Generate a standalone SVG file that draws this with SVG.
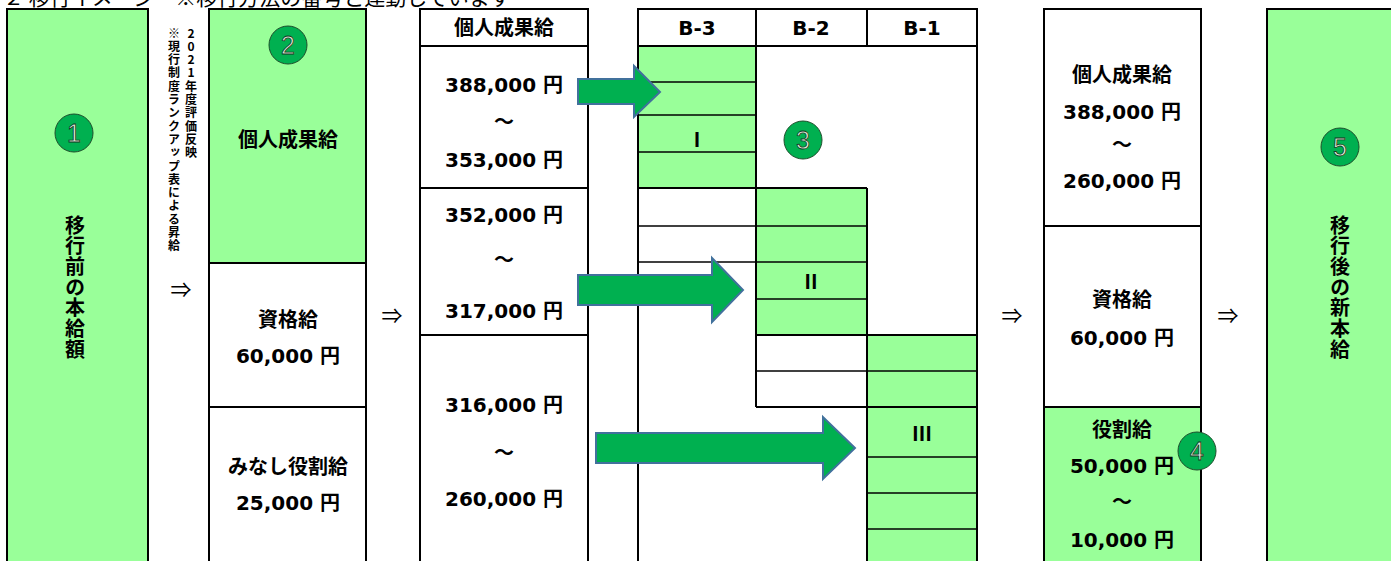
<svg xmlns="http://www.w3.org/2000/svg" width="1391" height="561" viewBox="0 0 1391 561">
<defs>
<style>
.g{fill:#99FF99}
.w{fill:#FFFFFF}
.frame{fill:none;stroke:#000;stroke-width:2}
.ln{stroke:#000;stroke-width:2;fill:none}
.tn{stroke:#000;stroke-width:1.5;fill:none}
.t{font-family:"DejaVu Sans","Noto Sans CJK JP",sans-serif;font-weight:bold;font-size:20px;text-anchor:middle;fill:#000}
.rn{font-family:"Liberation Serif","Noto Sans CJK JP",serif;font-weight:bold;font-size:20px;text-anchor:middle;fill:#000}
.vt{font-family:"Noto Sans CJK JP",sans-serif;font-weight:bold;font-size:20px;fill:#000;writing-mode:vertical-rl;text-orientation:upright;letter-spacing:0.7px}
.vs{font-family:"Noto Sans CJK JP",sans-serif;font-weight:bold;font-size:12px;fill:#000;writing-mode:vertical-rl;text-orientation:upright;letter-spacing:1.3px}
.nc{fill:#00B050;stroke:#1E4D2B;stroke-width:1}
.nt{font-family:"Liberation Sans",sans-serif;font-size:25px;fill:#E2F0D9;stroke:#13361F;stroke-width:0.8;text-anchor:middle}
.arr{fill:#00B050;stroke:#41719C;stroke-width:2}
.dbl{font-family:"Noto Sans CJK JP",sans-serif;font-size:21px;text-anchor:middle;fill:#000}
.title{font-family:"Noto Sans CJK JP",sans-serif;font-size:21px;fill:#000}
</style>
</defs>
<rect width="1391" height="561" fill="#FFFFFF"/>
<text class="title" x="3" y="5">２ 移行イメージ　※移行方法の番号と連動しています</text>

<g id="node-before">
<rect x="7" y="9" width="141" height="562" class="g"/>
<rect x="7" y="9" width="141" height="562" class="frame"/>
<circle cx="74" cy="133" r="19" class="nc"/>
<text class="nt" x="74" y="142">1</text>
<text class="vt" x="75" y="215">移行前の本給額</text>
</g>

<g id="node-note">
<text class="vs" x="191" y="27">2021年度評価反映</text>
<text class="vs" x="174" y="27">※現行制度ランクアップ表による昇給</text>
</g>

<g id="node-current">
<rect x="209" y="9" width="157" height="562" class="w"/>
<rect x="209" y="9" width="157" height="254" class="g"/>
<line x1="209" y1="263" x2="366" y2="263" class="ln"/>
<line x1="209" y1="407" x2="366" y2="407" class="ln"/>
<rect x="209" y="9" width="157" height="562" class="frame"/>
<circle cx="288" cy="45" r="19" class="nc"/>
<text class="nt" x="288" y="54">2</text>
<text class="t" x="288" y="147">個人成果給</text>
<text class="t" x="288" y="327">資格給</text>
<text class="t" x="288" y="363">60,000 円</text>
<text class="t" x="288" y="474">みなし役割給</text>
<text class="t" x="288" y="510">25,000 円</text>
</g>

<g id="node-perf">
<rect x="420" y="9" width="168" height="562" class="w"/>
<line x1="420" y1="46" x2="588" y2="46" class="ln"/>
<line x1="420" y1="188" x2="588" y2="188" class="ln"/>
<line x1="420" y1="335" x2="588" y2="335" class="ln"/>
<rect x="420" y="9" width="168" height="562" class="frame"/>
<text class="t" x="504" y="35">個人成果給</text>
<text class="t" x="504" y="92">388,000 円</text>
<text class="t" x="504" y="129">～</text>
<text class="t" x="504" y="167">353,000 円</text>
<text class="t" x="504" y="222">352,000 円</text>
<text class="t" x="504" y="267">～</text>
<text class="t" x="504" y="318">317,000 円</text>
<text class="t" x="504" y="412">316,000 円</text>
<text class="t" x="504" y="460">～</text>
<text class="t" x="504" y="506">260,000 円</text>
</g>

<g id="node-grid">
<rect x="638" y="9" width="339" height="562" class="w"/>
<rect x="638" y="46" width="118" height="142" class="g"/>
<rect x="756" y="188" width="111" height="147" class="g"/>
<rect x="867" y="335" width="110" height="236" class="g"/>
<line x1="638" y1="82" x2="756" y2="82" class="tn"/>
<line x1="638" y1="115" x2="756" y2="115" class="tn"/>
<line x1="638" y1="152" x2="756" y2="152" class="tn"/>
<line x1="638" y1="226" x2="867" y2="226" class="tn"/>
<line x1="638" y1="262" x2="867" y2="262" class="tn"/>
<line x1="756" y1="299" x2="867" y2="299" class="tn"/>
<line x1="756" y1="371" x2="977" y2="371" class="tn"/>
<line x1="867" y1="457" x2="977" y2="457" class="tn"/>
<line x1="867" y1="493" x2="977" y2="493" class="tn"/>
<line x1="867" y1="529" x2="977" y2="529" class="tn"/>
<line x1="638" y1="46" x2="977" y2="46" class="ln"/>
<line x1="756" y1="9" x2="756" y2="407" class="ln"/>
<line x1="867" y1="9" x2="867" y2="46" class="ln"/>
<line x1="638" y1="188" x2="867" y2="188" class="ln"/>
<line x1="867" y1="188" x2="867" y2="561" class="ln"/>
<line x1="756" y1="335" x2="977" y2="335" class="ln"/>
<line x1="756" y1="407" x2="977" y2="407" class="ln"/>
<polyline points="638,571 638,9 977,9 977,571" class="ln"/>
<text class="t" x="697" y="35">B-3</text>
<text class="t" x="811" y="35">B-2</text>
<text class="t" x="922" y="35">B-1</text>
<text class="rn" x="697" y="147">Ⅰ</text>
<text class="rn" x="811" y="289">Ⅱ</text>
<text class="rn" x="922" y="441">Ⅲ</text>
<circle cx="803" cy="140" r="19" class="nc"/>
<text class="nt" x="803" y="149">3</text>
</g>

<g id="node-after">
<rect x="1044" y="9" width="157" height="562" class="w"/>
<rect x="1044" y="407" width="157" height="164" class="g"/>
<line x1="1044" y1="226" x2="1201" y2="226" class="ln"/>
<line x1="1044" y1="407" x2="1201" y2="407" class="ln"/>
<rect x="1044" y="9" width="157" height="562" class="frame"/>
<text class="t" x="1122" y="82">個人成果給</text>
<text class="t" x="1122" y="119">388,000 円</text>
<text class="t" x="1122" y="152">～</text>
<text class="t" x="1122" y="188">260,000 円</text>
<text class="t" x="1122" y="307">資格給</text>
<text class="t" x="1122" y="345">60,000 円</text>
<text class="t" x="1122" y="437">役割給</text>
<text class="t" x="1122" y="473">50,000 円</text>
<text class="t" x="1122" y="509">～</text>
<text class="t" x="1122" y="547">10,000 円</text>
<circle cx="1197" cy="451" r="19" class="nc"/>
<text class="nt" x="1197" y="460">4</text>
</g>

<g id="node-new">
<rect x="1267" y="9" width="140" height="562" class="g"/>
<rect x="1267" y="9" width="140" height="562" class="frame"/>
<circle cx="1340" cy="147" r="19" class="nc"/>
<text class="nt" x="1340" y="156">5</text>
<text class="vt" x="1340" y="215">移行後の新本給</text>
</g>

<g id="connectors">
<text class="dbl" x="181" y="297">⇒</text>
<text class="dbl" x="392" y="323">⇒</text>
<text class="dbl" x="1012" y="323">⇒</text>
<text class="dbl" x="1228" y="323">⇒</text>
<polygon class="arr" points="578,79 634,79 634,66 660,92 634,117 634,104 578,104"/>
<polygon class="arr" points="578,275 712,275 712,258 743,290 712,322 712,305 578,305"/>
<polygon class="arr" points="596,433 823,433 823,417 855,448 823,479 823,463 596,463"/>
</g>
</svg>
